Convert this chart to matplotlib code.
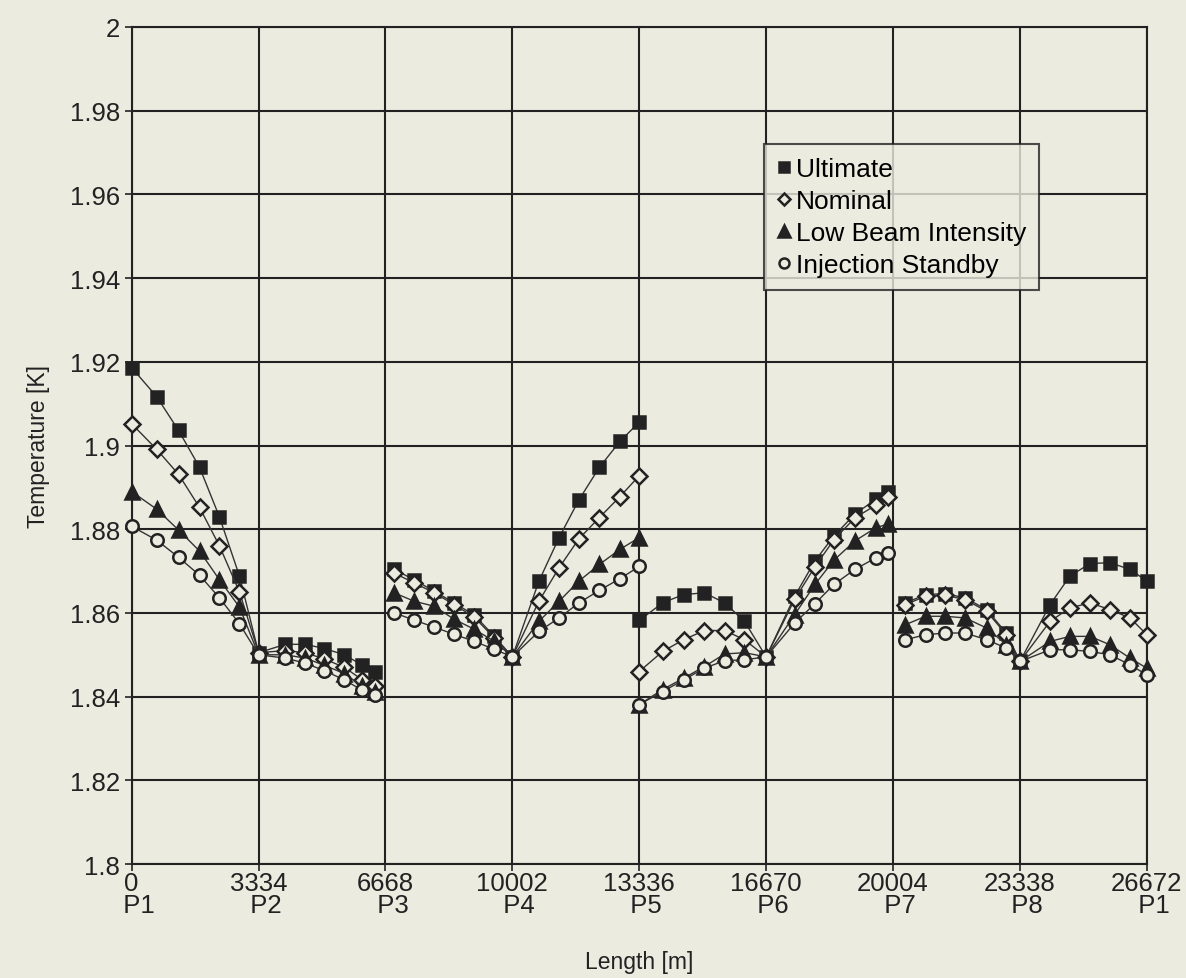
import numpy as np
import matplotlib.pyplot as plt

plt.rcParams['font.family'] = ['Liberation Sans', 'DejaVu Sans']

# positions along the ring [m], None = gap between sectors
length = [0, 656, 1233, 1784, 2308, 2833, 3334,
          4040, 4560, 5060, 5590, 6060, 6400, None,
          6900, 7420, 7950, 8470, 9000, 9530, 10002,
          10700, 11230, 11750, 12290, 12830, 13336, None,
          13336, 13950, 14500, 15050, 15580, 16100, 16670,
          17420, 17950, 18450, 19000, 19560, 19860, None,
          20330, 20860, 21380, 21900, 22460, 22980, 23338,
          24130, 24650, 25180, 25700, 26230, 26672]

ultimate = [1.9186, 1.9117, 1.9036, 1.8948, 1.8829, 1.8688, 1.8505,
            1.8525, 1.8525, 1.8515, 1.8500, 1.8475, 1.8460, None,
            1.8704, 1.8679, 1.8652, 1.8624, 1.8595, 1.8544, 1.8495,
            1.8676, 1.8780, 1.8870, 1.8948, 1.9010, 1.9056, None,
            1.8582, 1.8624, 1.8644, 1.8648, 1.8624, 1.8580, 1.8495,
            1.8640, 1.8724, 1.8784, 1.8836, 1.8872, 1.8888, None,
            1.8624, 1.8644, 1.8646, 1.8636, 1.8608, 1.8552, 1.8484,
            1.8620, 1.8688, 1.8718, 1.8720, 1.8704, 1.8676]

nominal = [1.9052, 1.8991, 1.8931, 1.8852, 1.8760, 1.8650, 1.8505,
           1.8510, 1.8505, 1.8490, 1.8470, 1.8440, 1.8425, None,
           1.8695, 1.8672, 1.8648, 1.8620, 1.8590, 1.8540, 1.8495,
           1.8628, 1.8708, 1.8777, 1.8828, 1.8878, 1.8928, None,
           1.8460, 1.8508, 1.8536, 1.8558, 1.8558, 1.8536, 1.8495,
           1.8633, 1.8710, 1.8775, 1.8827, 1.8858, 1.8876, None,
           1.8620, 1.8640, 1.8642, 1.8632, 1.8604, 1.8548, 1.8484,
           1.8580, 1.8612, 1.8624, 1.8608, 1.8588, 1.8548]

low_beam = [1.8890, 1.8848, 1.8798, 1.8748, 1.8679, 1.8614, 1.8500,
            1.8500, 1.8492, 1.8475, 1.8455, 1.8425, 1.8412, None,
            1.8648, 1.8628, 1.8616, 1.8585, 1.8561, 1.8532, 1.8495,
            1.8580, 1.8628, 1.8676, 1.8716, 1.8752, 1.8780, None,
            1.8381, 1.8417, 1.8444, 1.8472, 1.8502, 1.8505, 1.8495,
            1.8596, 1.8668, 1.8726, 1.8772, 1.8804, 1.8812, None,
            1.8572, 1.8592, 1.8592, 1.8588, 1.8564, 1.8524, 1.8484,
            1.8532, 1.8544, 1.8544, 1.8524, 1.8492, 1.8468]

injection = [1.8807, 1.8774, 1.8733, 1.8690, 1.8636, 1.8574, 1.8500,
             1.8492, 1.8480, 1.8462, 1.8440, 1.8415, 1.8405, None,
             1.8600, 1.8583, 1.8566, 1.8549, 1.8532, 1.8513, 1.8495,
             1.8556, 1.8588, 1.8624, 1.8654, 1.8682, 1.8711, None,
             1.8381, 1.8412, 1.8440, 1.8468, 1.8486, 1.8488, 1.8495,
             1.8576, 1.8622, 1.8668, 1.8704, 1.8732, 1.8744, None,
             1.8536, 1.8548, 1.8552, 1.8552, 1.8536, 1.8516, 1.8484,
             1.8512, 1.8512, 1.8508, 1.8500, 1.8476, 1.8452]

tick_pos = [0, 3334, 6668, 10002, 13336, 16670, 20004, 23338, 26672]
tick_pts = ['P1', 'P2', 'P3', 'P4', 'P5', 'P6', 'P7', 'P8', 'P1']


def arr(v):
    return np.array([np.nan if a is None else a for a in v], dtype=float)


bg = '#ecebe0'
fig = plt.figure(figsize=(11.86, 9.79), dpi=100, facecolor=bg)
ax = fig.add_axes([0.111, 0.1164, 0.856, 0.855], facecolor=bg)

x = arr(length)
series = [
    ('Ultimate', ultimate, dict(marker='s', mfc='#222222', ms=9)),
    ('Nominal', nominal, dict(marker='D', mfc=bg, ms=8)),
    ('Low Beam Intensity', low_beam, dict(marker='^', mfc='#222222', ms=10)),
    ('Injection Standby', injection, dict(marker='o', mfc=bg, ms=9)),
]
for name, vals, st in series:
    ax.plot(x, arr(vals), color='#333333', lw=1.0, mec='#222222', mew=1.8,
            label=name, clip_on=False, zorder=3, **st)

ax.set_xlim(0, 26672)
ax.set_ylim(1.8, 2.0)
ax.set_xticks(tick_pos)
ax.set_xticklabels([f'{v}\n  {p}' for v, p in zip(tick_pos, tick_pts)],
                   linespacing=0.9)
yt = np.arange(1.8, 2.0001, 0.02)
ax.set_yticks(yt)
ax.set_yticklabels([f'{v:g}' for v in np.round(yt, 2)])
ax.grid(True, color='#222222', lw=1.5)
ax.set_axisbelow(True)
for s in ax.spines.values():
    s.set_color('#222222')
    s.set_linewidth(1.5)
ax.tick_params(labelsize=18.5, colors='#222222', length=5, width=1.2)
ax.tick_params(axis='x', pad=0)
ax.set_xlabel('Length [m]', fontsize=16.5, color='#222222', labelpad=24)
ax.set_ylabel('Temperature [K]', fontsize=16.5, color='#222222', labelpad=14)

leg = ax.legend(loc='upper left', bbox_to_anchor=(0.61, 0.876), fontsize=19,
                frameon=True, fancybox=False, handlelength=0.5,
                handletextpad=0.2, borderpad=0.5, labelspacing=0.3,
                markerscale=0.8)
leg.get_frame().set_edgecolor('#222222')
leg.get_frame().set_linewidth(1.5)
leg.get_frame().set_facecolor(bg)
leg.set_zorder(5)
for h in leg.get_lines():
    h.set_linestyle('none')

fig.savefig('out.png', dpi=100, facecolor=bg)
